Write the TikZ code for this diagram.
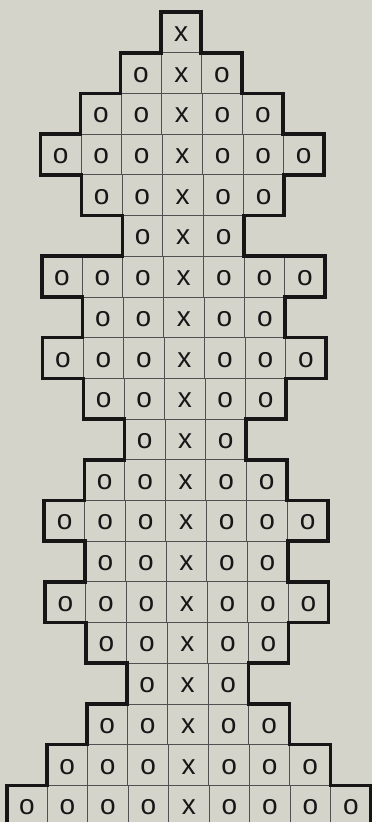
\documentclass[tikz,border=0pt]{standalone}
\usepackage{fontspec}
\setmainfont{Liberation Sans}
\definecolor{paper}{RGB}{212,212,203}
\definecolor{ink}{RGB}{22,22,22}
\begin{document}
\begin{tikzpicture}[x=1pt,y=-1pt,
  cellbox/.style={draw=ink!75, line width=0.8pt},
  glyph/.style={font=\fontsize{28}{28}\selectfont, text=ink, inner sep=0pt},
  outline/.style={draw=ink, line width=3.6pt, line join=miter}]
\fill[paper] (0,0) rectangle (372,822);
\useasboundingbox (0,0) rectangle (372,822);
\clip (0,0) rectangle (372,822);
\foreach \w [count=\rr from 0] in {1,3,5,7,5,3,7,5,7,5,3,5,7,5,7,5,3,5,7,9} {
  \pgfmathsetmacro\c{181+0.42*\rr}
  \pgfmathsetmacro\yt{12+40.7*\rr}
  \pgfmathsetmacro\yb{\yt+40.7}
  \pgfmathsetmacro\xl{\c-\w*20.25}
  \pgfmathsetmacro\xr{\c+\w*20.25}
  \coordinate (L-\rr-t) at (\xl,\yt);
  \coordinate (L-\rr-b) at (\xl,\yb);
  \coordinate (R-\rr-t) at (\xr,\yt);
  \coordinate (R-\rr-b) at (\xr,\yb);
  \pgfmathtruncatemacro\mid{(\w+1)/2}
  \foreach \k in {1,...,\w} {
    \pgfmathsetmacro\xa{\xl+(\k-1)*40.5}
    \draw[cellbox] (\xa,\yt) rectangle ++(40.5,40.7);
    \node[glyph] (g-\rr-\k) at (\xa+20.25,\yt+22) {\ifnum\k=\mid x\else o\fi};
  }
}
\draw[outline] (L-0-t)
  foreach \rr in {0,...,19} { -- (R-\rr-t) -- (R-\rr-b) }
  foreach \rr in {19,...,0} { -- (L-\rr-b) -- (L-\rr-t) } -- cycle;
\end{tikzpicture}
\end{document}
